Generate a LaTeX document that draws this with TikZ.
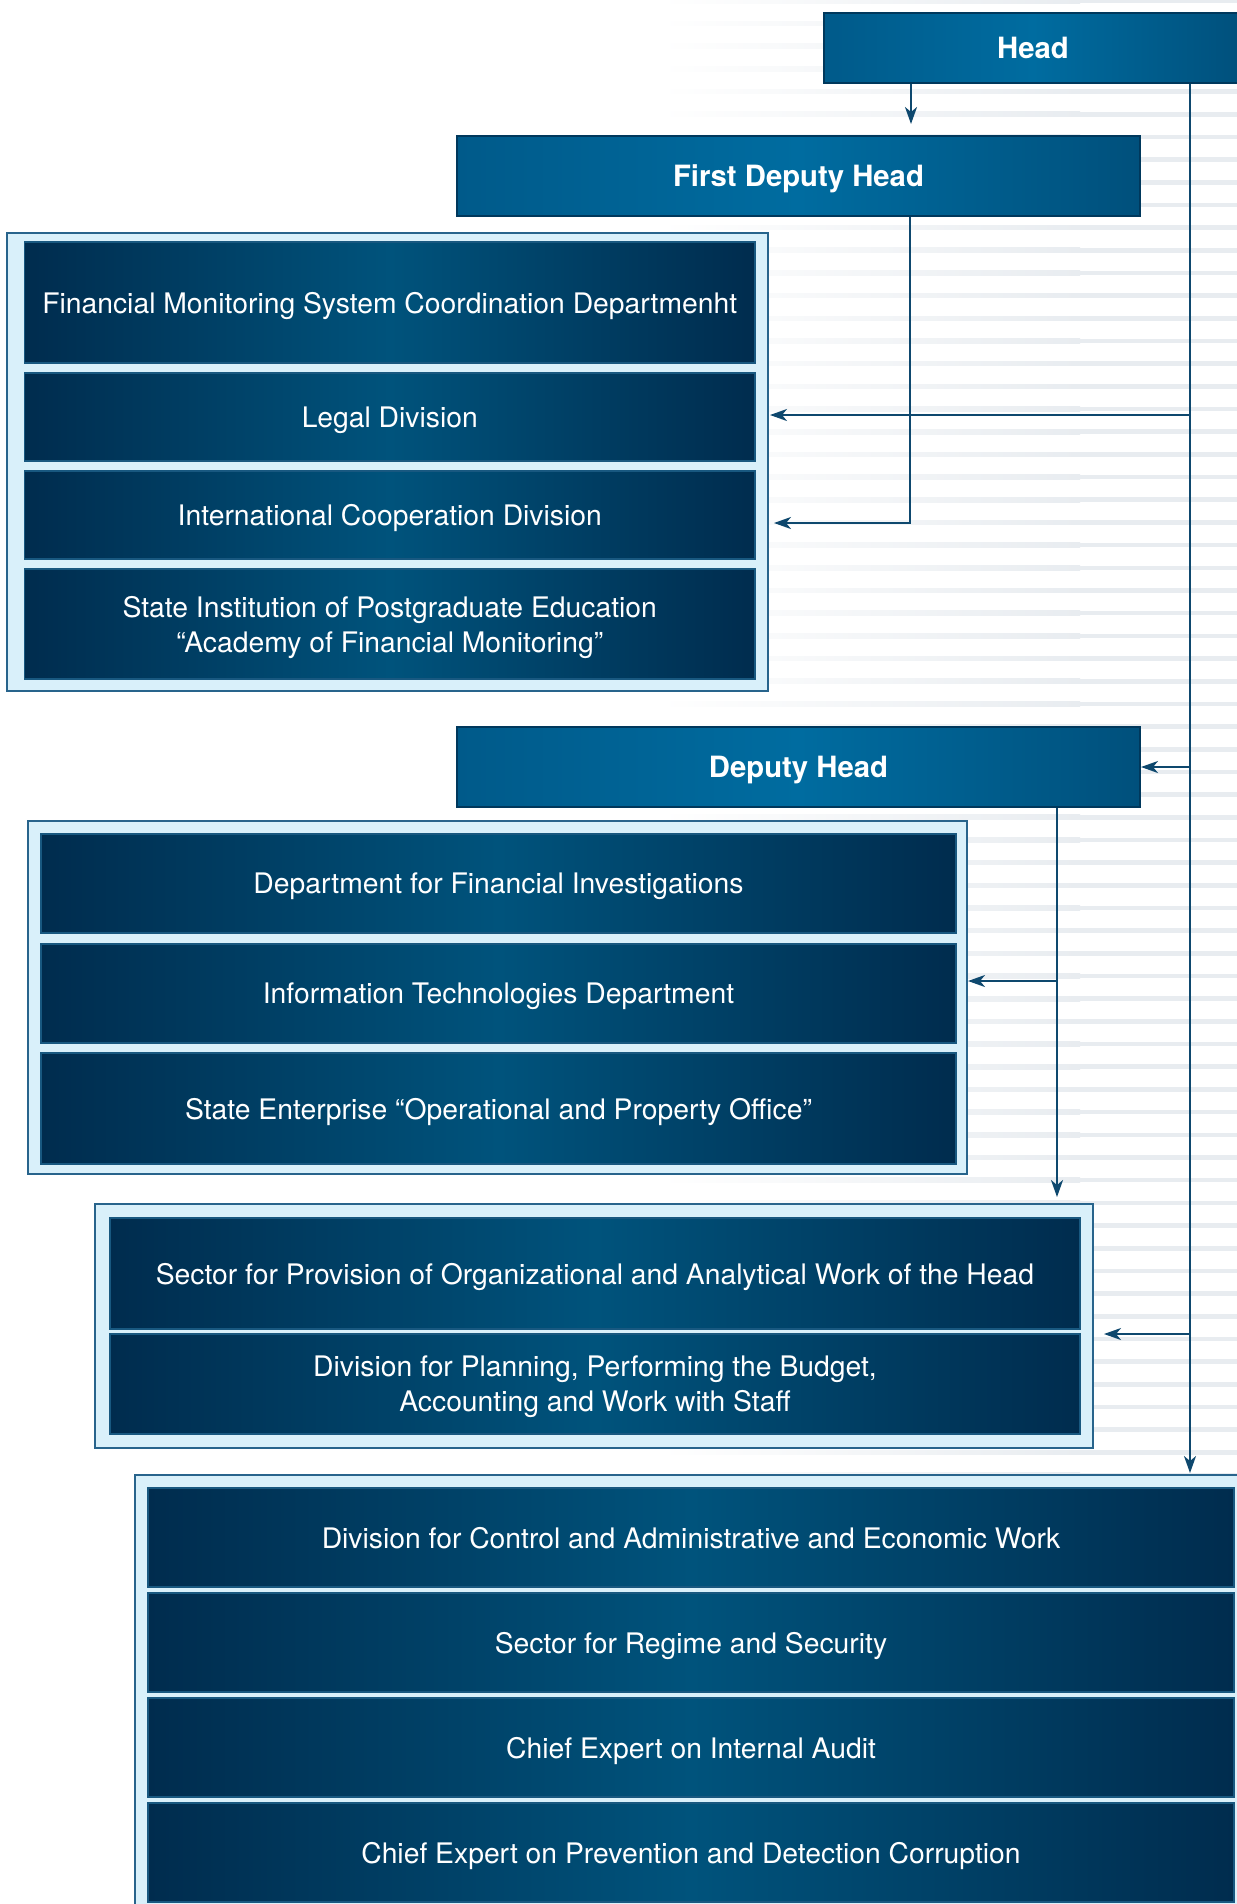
\documentclass[tikz,border=0pt]{standalone}
\usepackage{fontspec}
\setmainfont{TeX Gyre Heros}
\usetikzlibrary{arrows.meta,calc}
\definecolor{stripe}{RGB}{232,236,240}
\definecolor{navyE}{RGB}{0,44,78}
\definecolor{navyM}{RGB}{0,83,124}
\definecolor{navyLine}{RGB}{24,88,128}
\definecolor{hdrL}{RGB}{0,90,138}
\definecolor{hdrM}{RGB}{0,108,160}
\definecolor{hdrR}{RGB}{0,80,124}
\definecolor{hdrLine}{RGB}{0,56,92}
\definecolor{panelFill}{RGB}{217,240,250}
\definecolor{panelLine}{RGB}{40,100,140}
\definecolor{arrowCol}{RGB}{14,72,110}
\tikzset{
  x=1pt, y=-1pt,
  panel/.style={draw=panelLine, line width=1.2pt, fill=panelFill},
  unitbox/.style={rectangle, draw=navyLine, line width=1.5pt,
    left color=navyE, right color=navyE, middle color=navyM,
    text=white, align=center, inner sep=0pt, text depth=0pt,
    font=\fontsize{28.3}{35}\selectfont},
  hdrbox/.style={rectangle, draw=hdrLine, line width=2pt,
    left color=hdrL, right color=hdrR, middle color=hdrM,
    text=white, align=center, inner sep=0pt, text depth=0pt,
    font=\bfseries\fontsize{29.3}{35}\selectfont},
  arr/.style={draw=arrowCol, line width=2pt,
    -{Stealth[length=17pt,width=12pt,inset=5pt]}}
}
\begin{document}
\begin{tikzpicture}
\useasboundingbox (0,0) rectangle (1237,1904);
\fill[white] (0,0) rectangle (1237,1904);
% background stripes fading to the left
\foreach \k in {0,...,84}{
  \pgfmathsetmacro\yy{-1.5+22.68*\k}
  \shade[left color=white, right color=stripe] (660,\yy) rectangle (1080,\yy+4.6);
  \fill[stripe] (1080,\yy) rectangle (1240,\yy+4.6);
}

% header boxes
\node[hdrbox, minimum width=418pt, minimum height=70pt] (head) at (1033,48) {Head};
\node[hdrbox, minimum width=683pt, minimum height=80pt] (fdh) at (798.5,176) {First Deputy Head};
\node[hdrbox, minimum width=683pt, minimum height=80pt] (dh) at (798.5,767) {Deputy Head};

% panel 1
\draw[panel] (7,233) rectangle (768,691);
\coordinate (p1e) at (768,462);
\node[unitbox, minimum width=730.5pt, minimum height=121pt] (b11) at (389.75,302.5) {Financial Monitoring System Coordination Departmenht};
\node[unitbox, minimum width=730.5pt, minimum height=88pt] (b12) at (389.75,417) {Legal Division};
\node[unitbox, minimum width=730.5pt, minimum height=88pt] (b13) at (389.75,515) {International Cooperation Division};
\node[unitbox, minimum width=730.5pt, minimum height=110pt] (b14) at (389.75,624) {State Institution of Postgraduate Education\\``Academy of Financial Monitoring''};

% panel 2
\draw[panel] (28,821) rectangle (967,1174);
\coordinate (p2e) at (967,997);
\node[unitbox, minimum width=915pt, minimum height=99pt] (b21) at (498.5,883.5) {Department for Financial Investigations};
\node[unitbox, minimum width=915pt, minimum height=99pt] (b22) at (498.5,993.5) {Information Technologies Department};
\node[unitbox, minimum width=915pt, minimum height=111pt] (b23) at (498.5,1108.5) {State Enterprise ``Operational and Property Office''};

% panel 3
\draw[panel] (95,1204) rectangle (1093,1448);
\coordinate (p3n) at (594,1204);
\coordinate (p3e) at (1093,1326);
\node[unitbox, minimum width=970pt, minimum height=111pt] (b31) at (595,1273.5) {Sector for Provision of Organizational and Analytical Work of the Head};
\node[unitbox, minimum width=970pt, minimum height=100pt] (b32) at (595,1384) {Division for Planning, Performing the Budget,\\Accounting and Work with Staff};

% panel 4
\draw[panel] (135,1475) rectangle (1252,1925);
\coordinate (p4n) at (693,1475);
\node[unitbox, minimum width=1086pt, minimum height=99pt] (b41) at (691,1537.5) {Division for Control and Administrative and Economic Work};
\node[unitbox, minimum width=1086pt, minimum height=99pt] (b42) at (691,1642.5) {Sector for Regime and Security};
\node[unitbox, minimum width=1086pt, minimum height=99pt] (b43) at (691,1747.5) {Chief Expert on Internal Audit};
\node[unitbox, minimum width=1086pt, minimum height=99pt] (b44) at (691,1852.5) {Chief Expert on Prevention and Detection Corruption};

% connector guide coordinates
\coordinate (tA) at (911,0);
\coordinate (tR) at (1190,0);
\coordinate (tF) at (910,0);
\coordinate (tD) at (1057,0);
\coordinate (yL) at (0,415);
\coordinate (yIC) at (0,523);
\coordinate (yIT) at (0,981);
\coordinate (yP3) at (0,1334);

% connectors
\draw[arr, shorten >=11pt] (head.south -| tA) -- (fdh.north -| tA);
\draw[arr, shorten >=2pt] (head.south -| tR) -- (p4n -| tR);
\draw[arr, shorten >=2pt] (tR |- yL) -- (p1e |- yL);
\draw[arr, shorten >=6pt] (fdh.south -| tF) |- (p1e |- yIC);
\draw[arr] (tR |- dh.east) -- (dh.east);
\draw[arr, shorten >=7pt] (dh.south -| tD) -- (p3n -| tD);
\draw[arr, shorten >=1pt] (tD |- yIT) -- (p2e |- yIT);
\draw[arr, shorten >=11pt] (tR |- yP3) -- (p3e |- yP3);
\end{tikzpicture}
\end{document}
